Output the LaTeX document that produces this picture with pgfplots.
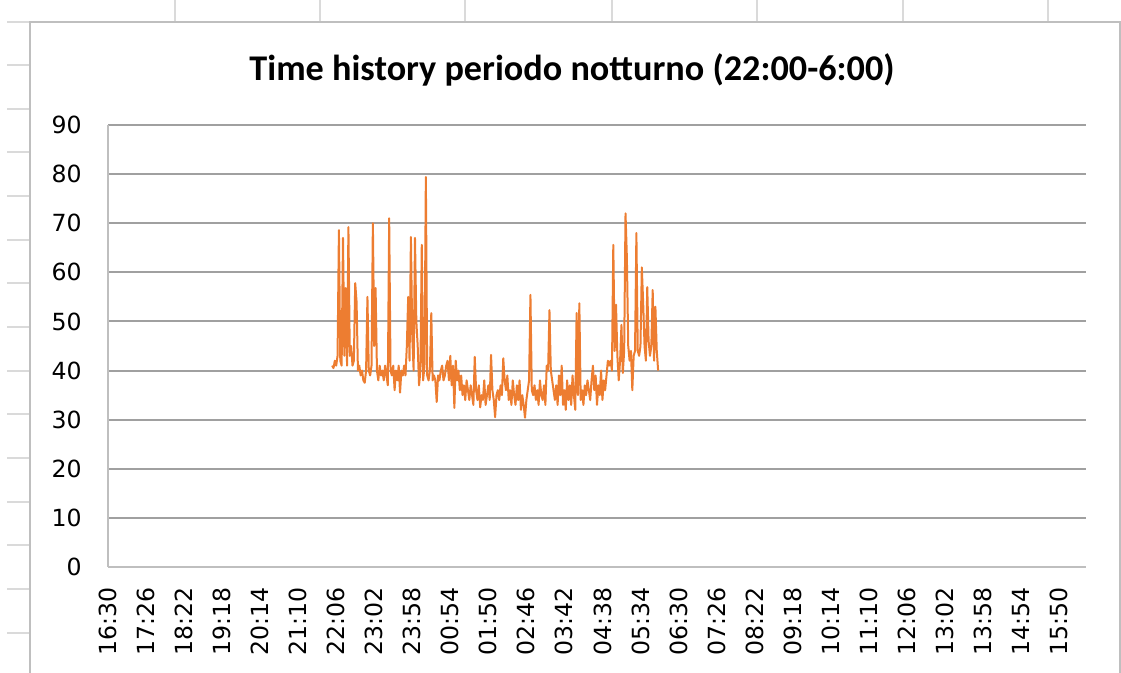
\documentclass[border=0pt]{standalone}
\usepackage{fontspec}
\usepackage{pgfplots}
\pgfplotsset{compat=1.18}
\setmainfont{DejaVu Sans}
\newfontfamily\titlefont{Carlito}
\definecolor{exorange}{RGB}{237,125,49}
\definecolor{exgrid}{RGB}{160,160,160}
\definecolor{exborder}{RGB}{191,191,191}
\definecolor{sheetgrid}{RGB}{218,218,218}
\begin{document}
\begin{tikzpicture}
\path[use as bounding box] (0pt,0pt) rectangle (560.5pt,336.5pt);
% spreadsheet background grid
\foreach \xx in {87.5,160,232.5,306,378.5,451.5,524}{
  \draw[sheetgrid,line width=0.6pt] (\xx pt,336.5pt) -- (\xx pt,325.5pt);}
\foreach \yy in {325.5,304,282,260.5,238.5,216.5,195,173,151,129.5,107.5,85.5,64,42,20}{
  \draw[sheetgrid,line width=0.6pt] (3.5pt,\yy pt) -- (15pt,\yy pt);}
% chart area border
\draw[exborder,line width=0.7pt] (15pt,0pt) -- (15pt,325.5pt) -- (560pt,325.5pt) -- (560pt,0pt);
\node[font=\titlefont\bfseries\fontsize{18.1}{21}\selectfont] at (286pt,301.5pt) {Time history periodo notturno (22:00-6:00)};
\begin{axis}[
  at={(54pt,53pt)}, anchor=south west,
  scale only axis, width=489pt, height=221pt,
  xmin=0, xmax=1440, ymin=0, ymax=90,
  axis x line*=bottom, axis y line*=left,
  axis line style={exborder, line width=0.7pt},
  ytick={0,10,...,90},
  xtick={0,56,...,1400},
  xticklabels={16:30,17:26,18:22,19:18,20:14,21:10,22:06,23:02,23:58,00:54,01:50,02:46,03:42,04:38,05:34,06:30,07:26,08:22,09:18,10:14,11:10,12:06,13:02,13:58,14:54,15:50},
  major tick length=0pt,
  ymajorgrids, grid style={exgrid, line width=1pt},
  /pgf/number format/assume math mode=true,
  tick label style={font=\fontsize{11.8}{14}\selectfont, text=black},
  yticklabel style={anchor=east, inner sep=0pt, xshift=-13pt},
  xticklabel style={yshift=-10pt, rotate=90, anchor=east, inner sep=0pt},
  clip=false,
]
\addplot[exorange, line width=1pt, line join=round] coordinates {
(330,41)(332,40.5)(334,42)(336,41)(338,43)(340,68.6)(342,42)(344,41)(346,67)(348,43)
(350,56.8)(352,41)(354,69.2)(356,43)(358,45)(360,41)(362,42)(364,57.8)(366,54)(368,40)
(370,41)(372,39)(374,40)(376,38)(378,37.5)(380,40)(382,55)(384,40)(386,39)(388,41)
(390,70)(392,45)(394,56.8)(396,40)(398,38)(400,41)(402,39)(404,40)(406,38)(408,41)
(410,39)(412,37)(414,71)(416,40)(418,39)(420,41)(422,36)(424,40)(426,38)(428,41)
(430,35.5)(432,40)(434,39)(436,41)(438,39)(440,45)(442,55)(444,42)(446,67.2)(448,47)
(450,40)(452,67)(454,50)(456,45)(458,37)(460,40)(462,65.6)(464,38)(466,41)(468,79.4)
(470,39)(472,38)(474,40)(476,51.7)(478,38)(480,39)(482,38)(484,33.6)(486,39)(488,38)
(490,40)(492,41)(494,38)(496,39)(498,41)(500,42)(502,38)(504,43)(506,37)(508,41)
(510,32.4)(512,42)(514,38)(516,40)(518,36)(520,39)(522,35)(524,37)(526,34)(528,38)
(530,36)(532,34)(534,37)(536,35)(538,33)(540,42.8)(542,36)(544,34)(546,37)(548,32.5)
(550,35)(552,34)(554,38)(556,33)(558,35)(560,37)(562,34)(564,43.2)(566,36)(568,34)
(570,30.5)(572,35)(574,36)(576,34)(578,37)(580,35)(582,42.5)(584,38)(586,36)(588,39)
(590,34)(592,36)(594,33)(596,38)(598,35)(600,33)(602,37)(604,34)(606,38)(608,32)
(610,35)(612,33)(614,30.4)(616,34)(618,36)(620,38)(622,55.4)(624,36)(626,35)(628,37)
(630,34)(632,36)(634,33)(636,38)(638,35)(640,34)(642,37)(644,33)(646,41)(648,40)
(650,52.3)(652,40)(654,38)(656,36)(658,34)(660,37)(662,33)(664,39)(666,35)(668,41)
(670,33)(672,36)(674,32)(676,38)(678,34)(680,37)(682,33)(684,39)(686,35)(688,32)
(690,51.7)(692,35)(694,53.7)(696,34)(698,36)(700,33)(702,37)(704,35)(706,38)(708,36)
(710,34)(712,38)(714,41)(716,36)(718,39)(720,33)(722,37)(724,35)(726,40)(728,34)
(730,38)(732,36)(734,39)(736,42)(738,41)(740,42)(742,40)(744,65.6)(746,44)(748,53.4)
(750,43)(752,38)(754,42)(756,49.3)(758,39.5)(760,44)(762,72)(764,63)(766,45)(768,42)
(770,44)(772,36)(774,43)(776,44)(778,68)(780,44)(782,43)(784,45)(786,61)(788,53.7)
(790,45)(792,42)(794,57)(796,46)(798,43)(800,45)(802,56.4)(804,42)(806,53)(808,44)
(810,40)
};
\end{axis}
\end{tikzpicture}
\end{document}
